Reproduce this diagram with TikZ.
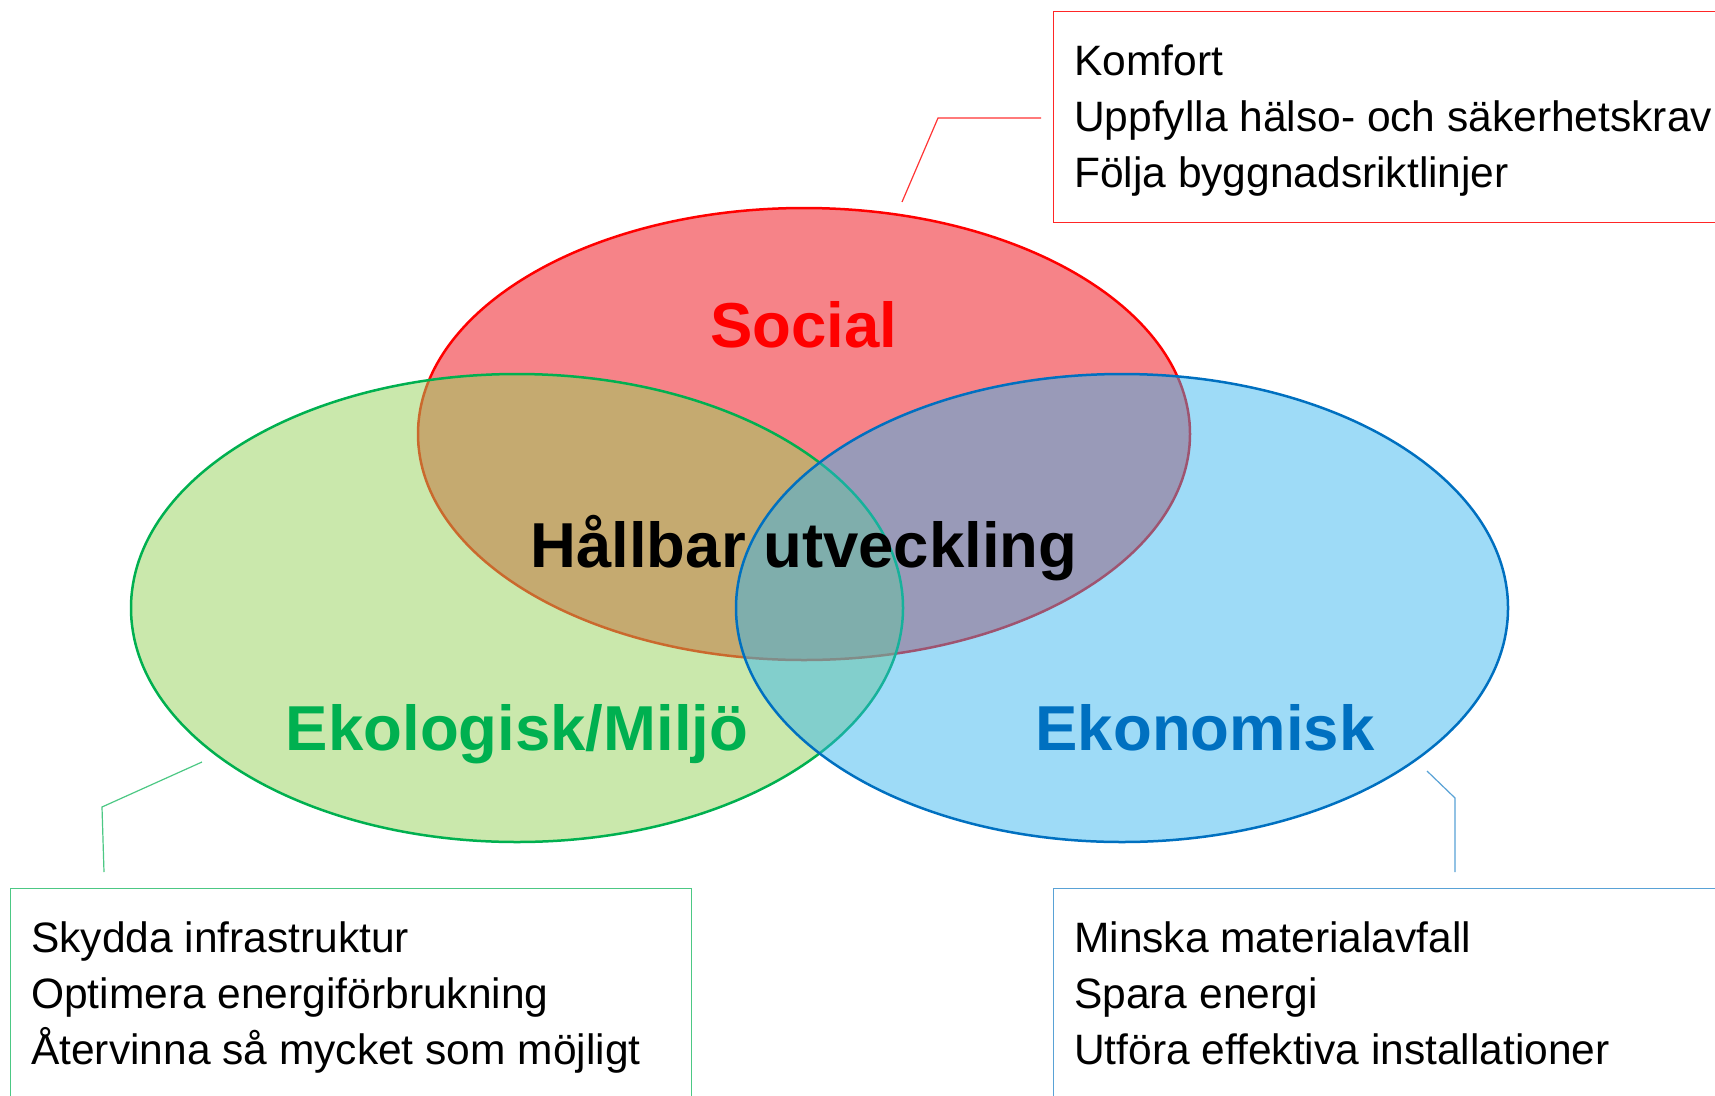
\documentclass[tikz,border=0pt]{standalone}
\usepackage{fontspec}
\setmainfont{Liberation Sans}
\usetikzlibrary{shapes.geometric}
\definecolor{socred}{RGB}{255,0,0}
\definecolor{ekogreen}{RGB}{0,176,80}
\definecolor{ekoblue}{RGB}{0,112,192}
\definecolor{redfill}{RGB}{240,30,40}
\definecolor{greenfill}{RGB}{150,210,90}
\definecolor{bluefill}{RGB}{50,180,240}
\begin{document}
\begin{tikzpicture}[x=1pt,y=-1pt,
  circ/.style={ellipse, line width=2.5pt, fill opacity=0.5, inner sep=0pt, minimum width=772pt},
  big/.style={font=\fontsize{63.5}{70}\selectfont\bfseries, anchor=base, inner sep=0pt},
  item/.style={font=\fontsize{42.5}{50}\selectfont, anchor=base west, inner sep=0pt},
  callbox/.style={line width=1.3pt, anchor=north west, inner sep=0pt},
  callline/.style={line width=1.2pt}]
\useasboundingbox (0,0) rectangle (1715,1095);
\clip (0,0) rectangle (1715,1095);
\fill[white] (0,0) rectangle (1715,1095);

% ellipses
\node[circ, draw=socred, fill=redfill, fill opacity=0.55, minimum height=452pt] (soc) at (804,434) {};
\node[circ, draw=ekogreen, fill=greenfill, minimum height=468pt] (eko) at (517,608) {};
\node[circ, draw=ekoblue, fill=bluefill, fill opacity=0.47, minimum height=468pt] (ekon) at (1122,608) {};

% labels
\node[big, text=socred] (socl) at (804,347) {Social};
\node[big, text=black] (hall) at (804,567) {Hållbar utveckling};
\node[big, text=ekogreen] (ekol) at (517,750) {Ekologisk/Miljö};
\node[big, text=ekoblue] (ekonl) at (1205,750) {Ekonomisk};

% callout boxes
\node[callbox, draw=socred!85, minimum width=720pt, minimum height=211pt] (socbox) at (1053,11) {};
\node[callbox, draw=ekogreen!70, minimum width=681pt, minimum height=260pt] (ekobox) at (10,888) {};
\node[callbox, draw=ekoblue!65, minimum width=720pt, minimum height=260pt] (ekonbox) at (1053,888) {};

% box texts
\node[item] (s1) at (1074,75) {Komfort};
\node[item] (s2) at (1074,131) {Uppfylla hälso- och säkerhetskrav};
\node[item] (s3) at (1074,187) {Följa byggnadsriktlinjer};
\node[item] (e1) at (31,952) {Skydda infrastruktur};
\node[item] (e2) at (31,1008) {Optimera energiförbrukning};
\node[item] (e3) at (31,1064) {Återvinna så mycket som möjligt};
\node[item] (k1) at (1074,952) {Minska materialavfall};
\node[item] (k2) at (1074,1008) {Spara energi};
\node[item] (k3) at (1074,1064) {Utföra effektiva installationer};

% callout lines
\coordinate (sA) at (902,202);
\coordinate (sB) at (938,118);
\coordinate (sC) at (1041,118);
\draw[callline, draw=socred!80] (sA) -- (sB) -- (sC);
\coordinate (eA) at (202,762);
\coordinate (eB) at (102,807);
\coordinate (eC) at (104,872);
\draw[callline, draw=ekogreen!70] (eA) -- (eB) -- (eC);
\coordinate (kA) at (1427,771);
\coordinate (kB) at (1455,798);
\coordinate (kC) at (1455,872);
\draw[callline, draw=ekoblue!65] (kA) -- (kB) -- (kC);
\end{tikzpicture}
\end{document}
